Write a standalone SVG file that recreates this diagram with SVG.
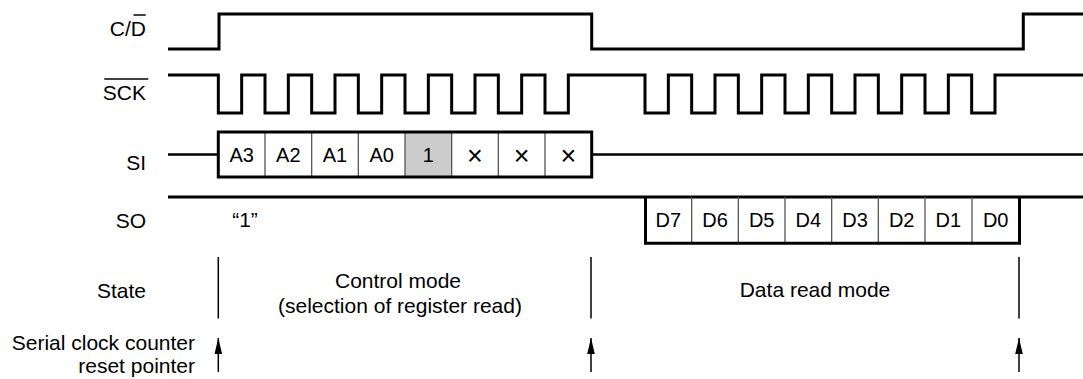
<svg xmlns="http://www.w3.org/2000/svg" width="1083" height="379" viewBox="0 0 1083 379">
<style>
  .wave { fill: none; stroke: #000; stroke-width: 3; stroke-linejoin: miter; stroke-linecap: butt; }
  .thin { fill: none; stroke: #000; stroke-width: 2.5; }
  .div { stroke: #555; stroke-width: 1.3; }
  .sep { stroke: #000; stroke-width: 1.5; }
  .lbl { font-family: "Liberation Sans", Arial, sans-serif; font-size: 21px; fill: #000; }
  .cell { font-family: "Liberation Sans", Arial, sans-serif; font-size: 20px; fill: #000; text-anchor: middle; }
  .x { font-size: 27px; font-weight: 300; }
  .end { text-anchor: end; }
  .mid { text-anchor: middle; }
</style>
<defs>
  <marker id="arr" markerUnits="userSpaceOnUse" markerWidth="18" markerHeight="10" refX="16" refY="5" orient="auto" viewBox="0 0 18 10">
    <path d="M0,1.2 L16,5 L0,8.8 Z" fill="#000"/>
  </marker>
</defs>
<rect width="1083" height="379" fill="#fff"/>

<g id="labels">
  <text class="lbl end" x="146" y="36">C/D</text>
  <line x1="133.5" y1="15" x2="145.7" y2="15" stroke="#000" stroke-width="1.5"/>
  <text class="lbl end" x="146" y="100">SCK</text>
  <line x1="104.3" y1="79" x2="148.3" y2="79" stroke="#000" stroke-width="1.5"/>
  <text class="lbl end" x="146" y="169.5">SI</text>
  <text class="lbl end" x="146" y="227.5">SO</text>
  <text class="lbl end" x="146" y="297.5">State</text>
  <text class="lbl end" x="195" y="350">Serial clock counter</text>
  <text class="lbl end" x="195" y="373">reset pointer</text>
</g>

<g id="cd">
  <path class="wave" d="M168,49 H219 V14 H591.7 V49 H1023.3 V14 H1083"/>
</g>

<g id="sck">
  <path class="wave" d="M168,75 H218.33 V113 H241.67 V75 H265 V113 H288.33 V75 H311.67 V113 H335 V75 H358.33 V113 H381.67 V75 H405 V113 H428.33 V75 H451.67 V113 H475 V75 H498.33 V113 H521.67 V75 H545 V113 H568.33 V75 H645 V113 H668.33 V75 H691.67 V113 H715 V75 H738.33 V113 H761.67 V75 H785 V113 H808.33 V75 H831.67 V113 H855 V75 H878.33 V113 H901.67 V75 H925 V113 H948.33 V75 H971.67 V113 H995 V75 H1083"/>
</g>

<g id="si">
  <line class="thin" x1="168" y1="154.5" x2="218.3" y2="154.5"/>
  <line class="thin" x1="591.7" y1="154.5" x2="1083" y2="154.5"/>
  <rect x="405" y="132" width="46.67" height="45" fill="#cccccc"/>
  <line class="div" x1="265" y1="132" x2="265" y2="177"/>
  <line class="div" x1="311.67" y1="132" x2="311.67" y2="177"/>
  <line class="div" x1="358.33" y1="132" x2="358.33" y2="177"/>
  <line class="div" x1="405" y1="132" x2="405" y2="177"/>
  <line class="div" x1="451.67" y1="132" x2="451.67" y2="177"/>
  <line class="div" x1="498.33" y1="132" x2="498.33" y2="177"/>
  <line class="div" x1="545" y1="132" x2="545" y2="177"/>
  <rect class="wave" x="218.3" y="132" width="373.4" height="45"/>
  <text class="cell" x="241.67" y="162">A3</text>
  <text class="cell" x="288.33" y="162">A2</text>
  <text class="cell" x="335" y="162">A1</text>
  <text class="cell" x="381.67" y="162">A0</text>
  <text class="cell" x="428.33" y="162">1</text>
  <text class="cell x" x="475" y="165">×</text>
  <text class="cell x" x="521.67" y="165">×</text>
  <text class="cell x" x="568.33" y="165">×</text>
</g>

<g id="so">
  <line class="wave" x1="168" y1="197" x2="1083" y2="197"/>
  <line class="div" x1="691.67" y1="197" x2="691.67" y2="243"/>
  <line class="div" x1="738.33" y1="197" x2="738.33" y2="243"/>
  <line class="div" x1="785" y1="197" x2="785" y2="243"/>
  <line class="div" x1="831.67" y1="197" x2="831.67" y2="243"/>
  <line class="div" x1="878.33" y1="197" x2="878.33" y2="243"/>
  <line class="div" x1="925" y1="197" x2="925" y2="243"/>
  <line class="div" x1="972" y1="197" x2="972" y2="243"/>
  <path class="wave" d="M645.5,197 V243.3 H1019.5 V197"/>
  <text class="cell" x="668.33" y="227">D7</text>
  <text class="cell" x="715" y="227">D6</text>
  <text class="cell" x="761.67" y="227">D5</text>
  <text class="cell" x="808.33" y="227">D4</text>
  <text class="cell" x="855" y="227">D3</text>
  <text class="cell" x="901.67" y="227">D2</text>
  <text class="cell" x="948.33" y="227">D1</text>
  <text class="cell" x="995.67" y="227">D0</text>
  <text class="lbl mid" x="245" y="227">“1”</text>
</g>

<g id="state">
  <line class="sep" x1="218.3" y1="257" x2="218.3" y2="318.5"/>
  <line class="sep" x1="591" y1="257" x2="591" y2="318.5"/>
  <line class="sep" x1="1019" y1="257" x2="1019" y2="318.5"/>
  <text class="lbl mid" x="398" y="288">Control mode</text>
  <text class="lbl mid" x="400" y="313">(selection of register read)</text>
  <text class="lbl mid" x="815" y="297">Data read mode</text>
</g>

<g id="connectors">
  <line class="sep" x1="218.3" y1="372" x2="218.3" y2="338" marker-end="url(#arr)"/>
  <line class="sep" x1="591" y1="372" x2="591" y2="338" marker-end="url(#arr)"/>
  <line class="sep" x1="1019" y1="372" x2="1019" y2="338" marker-end="url(#arr)"/>
</g>
</svg>
